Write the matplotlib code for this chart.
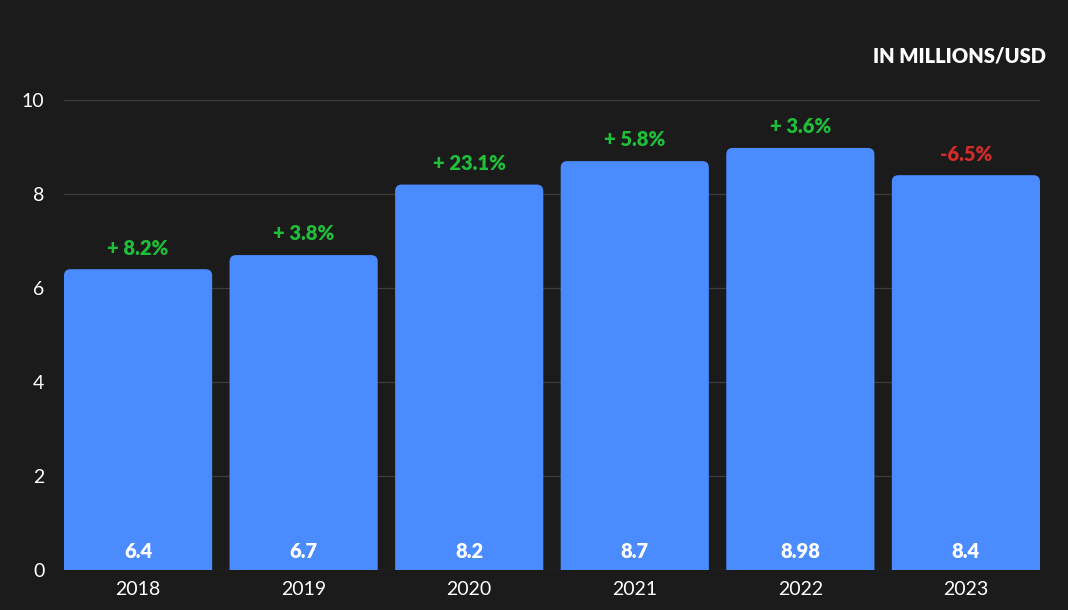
import matplotlib.pyplot as plt
from matplotlib.patches import FancyBboxPatch
import numpy as np

# data
years = ['2018', '2019', '2020', '2021', '2022', '2023']
revenue = [6.4, 6.7, 8.2, 8.7, 8.98, 8.4]
value_labels = ['6.4', '6.7', '8.2', '8.7', '8.98', '8.4']
changes = ['+ 8.2%', '+ 3.8%', '+ 23.1%', '+ 5.8%', '+ 3.6%', '-6.5%']
yticks = [0, 2, 4, 6, 8, 10]

bg = '#1b1b1b'
bar_color = '#4a8bff'
green = '#1fbf3a'
red = '#d42b2b'

plt.rcParams['font.family'] = ['Lato', 'DejaVu Sans']

fig = plt.figure(figsize=(10.68, 6.10), dpi=100, facecolor=bg)
ax = fig.add_axes([0.0599, 0.0656, 0.9139, 0.7705], facecolor=bg)

x = np.arange(len(years))
width = 0.895
ax.set_xlim(-width / 2, len(years) - 1 + width / 2)
ax.set_ylim(0, 10)

for v in yticks:
    ax.axhline(v, color='#3c3c3c', lw=0.9, zorder=0)

# bars with rounded top corners (bottom is pushed below the axis and clipped)
rx = 0.04
ry = rx * 3.5
for xi, v in zip(x, revenue):
    p = FancyBboxPatch((xi - width / 2 + rx, -1 + ry), width - 2 * rx, v + 1 - 2 * ry,
                       boxstyle=f'round,pad={rx}', mutation_aspect=3.5,
                       fc=bar_color, ec='none', zorder=2)
    ax.add_patch(p)
    p.set_clip_path(ax.patch)

for xi, v, lab, ch in zip(x, revenue, value_labels, changes):
    ax.text(xi, 0.4, lab, ha='center', va='center', color='white',
            fontsize=14.5, fontweight='heavy', zorder=3)
    col = red if ch.startswith('-') else green
    ax.text(xi, v + 0.45, ch, ha='center', va='center', color=col,
            fontsize=14.5, fontweight='heavy', zorder=3)

ax.set_xticks(x)
ax.set_xticklabels(years)
ax.set_yticks(yticks)
ax.tick_params(length=0, colors='white', labelsize=14)
ax.tick_params(axis='x', pad=8)
ax.tick_params(axis='y', pad=14)
for s in ax.spines.values():
    s.set_visible(False)

fig.text(0.979, 0.908, 'IN MILLIONS/USD', ha='right', va='center',
         color='white', fontsize=14.5, fontweight='heavy')

fig.savefig('out.png', dpi=100, facecolor=bg)
